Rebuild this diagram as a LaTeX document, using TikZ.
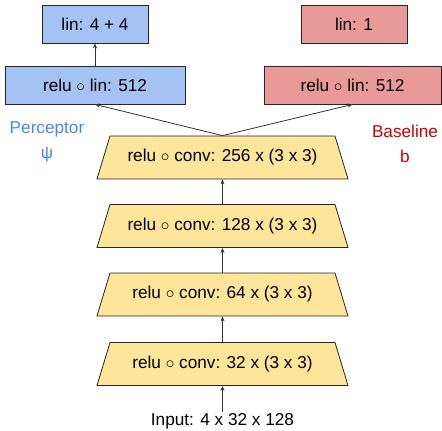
\documentclass[tikz,border=0pt]{standalone}
\usepackage{fontspec}
\setmainfont{Liberation Sans}
\usetikzlibrary{arrows.meta}

\definecolor{percblue}{HTML}{A4C2F4}
\definecolor{basered}{HTML}{EA9999}
\definecolor{convyellow}{HTML}{FFE599}
\definecolor{percText}{HTML}{4A86E8}
\definecolor{baseText}{HTML}{CC0000}

\begin{document}
\begin{tikzpicture}[x=1pt, y=-1pt, line width=0.8pt,
        font=\fontsize{17.2}{25}\selectfont,
        box/.style={draw=black!85, minimum height=38pt, inner sep=0pt},
        conv/.style={minimum width=225pt, minimum height=43pt, inner sep=0pt},
        arr/.style={-{Stealth[length=5pt, width=4pt]}, black!80}]
    \useasboundingbox (0,0) rectangle (442,431);

    % perceptor head
    \node[box, fill=percblue, minimum width=106pt] (ptop) at (95,24) {lin: 4 + 4};
    \node[box, fill=percblue, minimum width=180pt] (prelu) at (95,85) {relu $\circ$ lin: 512};
    \node[percText, align=center] (plabel) at (47,142) {Perceptor\\ψ};

    % baseline head
    \node[box, fill=basered, minimum width=106pt] (btop) at (354,24) {lin: 1};
    \node[box, fill=basered, minimum width=177pt] (brelu) at (352.5,85) {relu $\circ$ lin: 512};
    \node[baseText, align=center] (blabel) at (405,144) {Baseline\\b};

    % conv stack, trapezoids widen by 13 on each side at the bottom
    \foreach \n/\y in {256/157.5, 128/226, 64/294.5, 32/364} {
        \filldraw[draw=black!85, fill=convyellow]
            (110,\y-21.5) -- (335,\y-21.5) -- (348,\y+21.5) -- (97,\y+21.5) -- cycle;
        \node[conv] (c\n) at (222.5,\y) {relu $\circ$ conv: \n\ x (3 x 3)};
    }
    \node[inner sep=1pt] (input) at (222.5,421) {Input: 4 x 32 x 128};

    \draw[arr] (input.north) -- (c32.south);
    \draw[arr] (c32.north) -- (c64.south);
    \draw[arr] (c64.north) -- (c128.south);
    \draw[arr] (c128.north) -- (c256.south);
    \draw[arr] (c256.north) -- (prelu.south);
    \draw[arr] (c256.north) -- (brelu.south);
    \draw[arr] (prelu.north) -- (ptop.south);
\end{tikzpicture}
\end{document}
